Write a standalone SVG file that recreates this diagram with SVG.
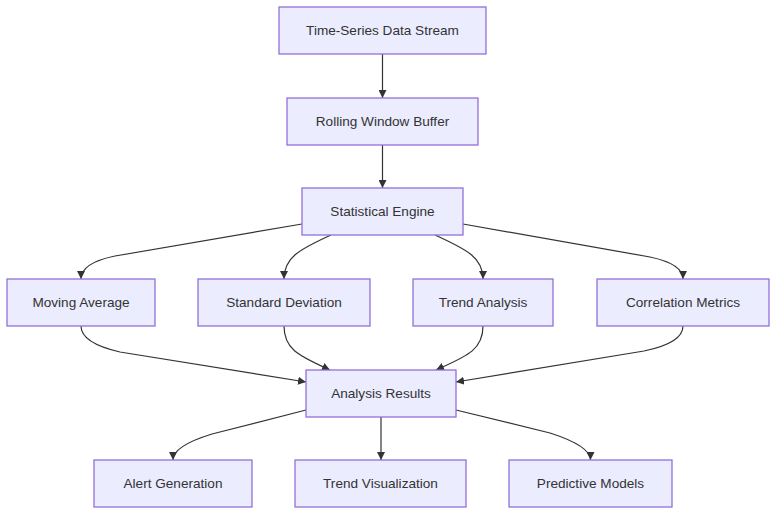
<svg xmlns="http://www.w3.org/2000/svg" width="784" height="521" viewBox="0 0 784 521">
<defs>
<style>
.node rect{fill:#ECECFF;stroke:#9370DB;stroke-width:1.3}
.node text{font-family:"Liberation Sans",Arial,sans-serif;font-size:13.6px;fill:#333;text-anchor:middle}
.edges path{fill:none;stroke:#333;stroke-width:1.2;marker-end:url(#arrow)}
</style>
<marker id="arrow" viewBox="0 0 10 10" refX="10" refY="5" markerWidth="8" markerHeight="8" markerUnits="userSpaceOnUse" orient="auto">
<path d="M0,0 L10,5 L0,10 z" fill="#333"/>
</marker>
</defs>
<rect width="784" height="521" fill="#fff"/>
<g id="edges" class="edges">
<path d="M382.5,54 L382.5,98"/>
<path d="M382.5,145 L382.5,188"/>
<path d="M302,224 L115,256 Q81,263 81,279"/>
<path d="M331,235 C298,250 284,258 284,279"/>
<path d="M435,235 C468,250 483,258 483,279"/>
<path d="M463,224 L650,257 Q683,264 683,279"/>
<path d="M81,326 Q81,343 120,352 L306,382"/>
<path d="M284,326 C284,350 300,356 330,370"/>
<path d="M483,326 C483,350 467,356 436,370"/>
<path d="M683,326 Q683,343 644,351 L456,382"/>
<path d="M306,410 L212,434 Q173,446 173,460"/>
<path d="M381,417 L381,460"/>
<path d="M456,410 L550,433 Q590.5,446 590.5,460"/>
</g>
<g id="n1" class="node"><rect x="279" y="7" width="207" height="47"/><text x="382.5" y="35">Time-Series Data Stream</text></g>
<g id="n2" class="node"><rect x="287" y="98" width="191" height="47"/><text x="382.5" y="126">Rolling Window Buffer</text></g>
<g id="n3" class="node"><rect x="302" y="188" width="161" height="47"/><text x="382.5" y="216">Statistical Engine</text></g>
<g id="n4" class="node"><rect x="7" y="279" width="148" height="47"/><text x="81" y="307">Moving Average</text></g>
<g id="n5" class="node"><rect x="198" y="279" width="172" height="47"/><text x="284" y="307">Standard Deviation</text></g>
<g id="n6" class="node"><rect x="413" y="279" width="140" height="47"/><text x="483" y="307">Trend Analysis</text></g>
<g id="n7" class="node"><rect x="597" y="279" width="172" height="47"/><text x="683" y="307">Correlation Metrics</text></g>
<g id="n8" class="node"><rect x="306" y="370" width="150" height="47"/><text x="381" y="398">Analysis Results</text></g>
<g id="n9" class="node"><rect x="94" y="460" width="158" height="47"/><text x="173" y="488">Alert Generation</text></g>
<g id="n10" class="node"><rect x="295" y="460" width="171" height="47"/><text x="380.5" y="488">Trend Visualization</text></g>
<g id="n11" class="node"><rect x="509" y="460" width="163" height="47"/><text x="590.5" y="488">Predictive Models</text></g>
</svg>
